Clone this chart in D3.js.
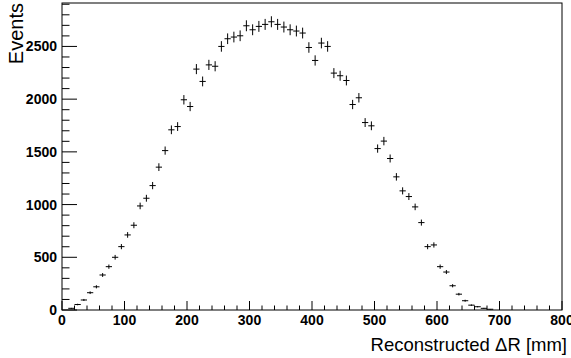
<!DOCTYPE html>
<html>
<head>
<meta charset="utf-8">
<script src="https://cdn.jsdelivr.net/npm/d3@7"></script>
<style>
  body { margin: 0; background: #fff; }
  svg { display: block; }
</style>
</head>
<body>
<div id="chart"></div>
<script>
// bin centres [mm], 10 mm wide bins
var binCenters = d3.range(5, 800, 10);
// entries per bin (bins not listed are empty)
var counts = [0, 16, 52, 95, 164, 220, 332, 411, 500, 601,
	712, 804, 987, 1060, 1180, 1355, 1512, 1709, 1740, 1994,
	1930, 2285, 2168, 2325, 2312, 2500, 2573, 2589, 2601, 2696,
	2658, 2690, 2709, 2734, 2709, 2684, 2658, 2646, 2627, 2490,
	2367, 2532, 2500, 2247, 2222, 2177, 1949, 2013, 1778, 1747,
	1531, 1602, 1437, 1263, 1130, 1076, 978, 829, 601, 617,
	411, 360, 230, 150, 88, 46, 31, 16, 7, 0];
var xTicks = [0, 100, 200, 300, 400, 500, 600, 700, 800];
var yTicks = [0, 500, 1000, 1500, 2000, 2500];
var binWidth = 10;

var width = 571, height = 358;
var padL = 62, padR = 562, padT = 3, padB = 310;

var svg = d3.select('#chart').append('svg')
	.attr('width', width)
	.attr('height', height);

var x = d3.scaleLinear().domain([0, 800]).range([padL, padR]);
var y = d3.scaleLinear().domain([0, 2912]).range([padB, padT]);

var hist = binCenters.map(function(c, i) {
	return { x: c, n: counts[i] || 0 };
}).filter(function(d) { return d.n > 0; });

// frame
svg.append('rect')
	.attr('x', padL)
	.attr('y', padT)
	.attr('width', padR - padL)
	.attr('height', padB - padT)
	.attr('fill', 'none')
	.attr('stroke', '#000')
	.attr('stroke-width', 1);

// x axis: major ticks every 100, minor every 20
var xAxis = svg.append('g').attr('transform', 'translate(0,' + padB + ')');
xAxis.selectAll('line')
	.data(d3.range(0, 801, 20))
	.enter().append('line')
	.attr('x1', function(d) { return x(d); })
	.attr('x2', function(d) { return x(d); })
	.attr('y1', 0)
	.attr('y2', function(d) { return d % 100 === 0 ? -9 : -4.5; })
	.attr('stroke', '#000');
xAxis.selectAll('text')
	.data(xTicks)
	.enter().append('text')
	.attr('x', function(d) { return x(d); })
	.attr('y', 14.5)
	.attr('text-anchor', 'middle')
	.style('font', 'bold 14px "Liberation Sans", Arial, sans-serif')
	.text(function(d) { return d; });

// y axis: major ticks every 500, minor every 100
var yAxis = svg.append('g').attr('transform', 'translate(' + padL + ',0)');
yAxis.selectAll('line')
	.data(d3.range(0, 2901, 100))
	.enter().append('line')
	.attr('y1', function(d) { return y(d); })
	.attr('y2', function(d) { return y(d); })
	.attr('x1', 0)
	.attr('x2', function(d) { return d % 500 === 0 ? 15 : 7.5; })
	.attr('stroke', '#000');
yAxis.selectAll('text')
	.data(yTicks)
	.enter().append('text')
	.attr('x', -5)
	.attr('y', function(d) { return y(d) + 5; })
	.attr('text-anchor', 'end')
	.style('font', 'bold 14px "Liberation Sans", Arial, sans-serif')
	.text(function(d) { return d; });

// axis titles
svg.append('text')
	.attr('x', 567)
	.attr('y', 351)
	.attr('text-anchor', 'end')
	.style('font', '18.5px "Liberation Sans", Arial, sans-serif')
	.text('Reconstructed \u0394R [mm]');

svg.append('text')
	.attr('transform', 'translate(23,3) rotate(-90)')
	.attr('text-anchor', 'end')
	.style('font', '20px "Liberation Sans", Arial, sans-serif')
	.text('Events');

// histogram points: horizontal bar = bin width, vertical bar = sqrt(N)
var pts = svg.append('g').attr('stroke', '#000').attr('stroke-width', 1);
pts.selectAll('line.h')
	.data(hist)
	.enter().append('line')
	.attr('class', 'h')
	.attr('x1', function(d) { return x(d.x - binWidth / 2); })
	.attr('x2', function(d) { return x(d.x + binWidth / 2); })
	.attr('y1', function(d) { return y(d.n); })
	.attr('y2', function(d) { return y(d.n); });
pts.selectAll('line.v')
	.data(hist)
	.enter().append('line')
	.attr('class', 'v')
	.attr('x1', function(d) { return x(d.x); })
	.attr('x2', function(d) { return x(d.x); })
	.attr('y1', function(d) { return y(d.n - Math.sqrt(d.n)); })
	.attr('y2', function(d) { return y(d.n + Math.sqrt(d.n)); });
</script>
</body>
</html>
